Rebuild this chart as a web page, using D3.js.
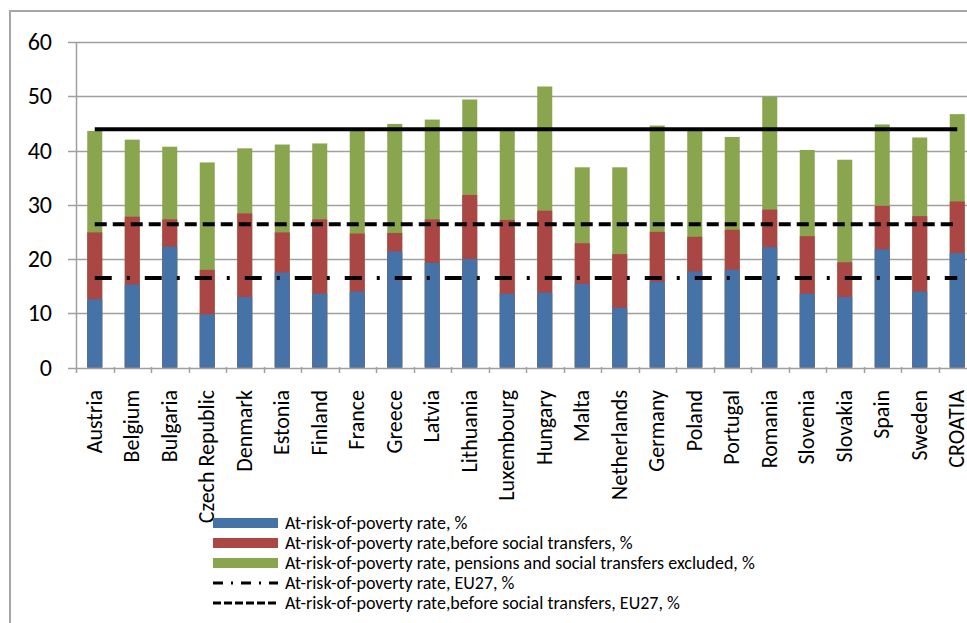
<!DOCTYPE html>
<html>
<head>
<meta charset="utf-8">
<script src="https://cdn.jsdelivr.net/npm/d3@7"></script>
<style>
  body { margin: 0; background: #fff; }
  svg { display: block; font-family: Carlito, Calibri, Lato, sans-serif; }
</style>
</head>
<body>
<svg id="chart" width="967" height="623"></svg>
<script>
const categories = ['Austria', 'Belgium', 'Bulgaria', 'Czech Republic', 'Denmark', 'Estonia',
  'Finland', 'France', 'Greece', 'Latvia', 'Lithuania', 'Luxembourg', 'Hungary', 'Malta',
  'Netherlands', 'Germany', 'Poland', 'Portugal', 'Romania', 'Slovenia', 'Slovakia', 'Spain',
  'Sweden', 'CROATIA'];

// at-risk-of-poverty rate, %
const povertyRate = [12.6, 15.3, 22.3, 9.8, 13.0, 17.5, 13.6, 14.0, 21.4, 19.3, 20.0, 13.6,
  13.8, 15.4, 11.0, 15.8, 17.7, 18.0, 22.2, 13.6, 13.0, 21.8, 14.0, 21.1];
// at-risk-of-poverty rate before social transfers, %
const beforeTransfers = [24.9, 27.8, 27.3, 18.0, 28.4, 24.9, 27.3, 24.7, 24.8, 27.3, 31.8, 27.2,
  28.9, 22.9, 20.9, 25.0, 24.1, 25.4, 29.1, 24.2, 19.4, 29.8, 27.9, 30.6];
// at-risk-of-poverty rate, pensions and social transfers excluded, %
const pensionsExcluded = [43.6, 42.0, 40.7, 37.8, 40.4, 41.1, 41.3, 43.8, 44.9, 45.7, 49.4, 43.7,
  51.8, 36.9, 36.9, 44.6, 43.7, 42.5, 49.9, 40.1, 38.3, 44.8, 42.4, 46.7];

// EU27 reference levels
const eu27Poverty = 16.5;
const eu27Before = 26.4;
const eu27PensionsExcluded = 43.9;

const yTicks = [0, 10, 20, 30, 40, 50, 60];

const legendItems = [
  { label: 'At-risk-of-poverty rate, %', type: 'rect', color: '#4572a7' },
  { label: 'At-risk-of-poverty rate,before social transfers, %', type: 'rect', color: '#aa4643' },
  { label: 'At-risk-of-poverty rate, pensions and social transfers excluded, %', type: 'rect', color: '#89a54e' },
  { label: 'At-risk-of-poverty rate, EU27, %', type: 'line', dash: '10,8,2,8' },
  { label: 'At-risk-of-poverty rate,before social transfers, EU27, %', type: 'line', dash: '8,3' }
];

const svg = d3.select('#chart');
const margin = { top: 42, left: 76, bottom: 256 };
const plotRight = 976;
const plotBottom = 623 - margin.bottom;

const x = d3.scaleBand().domain(categories).range([margin.left, plotRight]).padding(0);
const y = d3.scaleLinear().domain([0, 60]).range([plotBottom + 0.5, margin.top]);
const barW = x.bandwidth() * 0.4;
const cx = (c) => x(c) + x.bandwidth() / 2;

// outer frame
svg.append('path')
  .attr('d', 'M10,623 V11 H967')
  .attr('fill', 'none')
  .attr('stroke', '#a6a6a6')
  .attr('stroke-width', 2);

// gridlines
svg.append('g')
  .selectAll('line')
  .data(yTicks)
  .join('line')
  .attr('x1', margin.left - 8)
  .attr('x2', plotRight)
  .attr('y1', (d) => Math.round(y(d)) + 0.5)
  .attr('y2', (d) => Math.round(y(d)) + 0.5)
  .attr('stroke', '#a0a0a0')
  .attr('stroke-width', 1.5);

// y axis labels
const yAxis = svg.append('g')
  .attr('transform', `translate(${margin.left},0)`)
  .call(d3.axisLeft(y).tickValues(yTicks).tickSize(0).tickPadding(24));
yAxis.select('.domain').remove();
yAxis.selectAll('text')
  .attr('font-size', 24)
  .attr('font-family', 'Carlito, Calibri, Lato, sans-serif')
  .attr('fill', '#000');

svg.append('line')
  .attr('x1', margin.left + 0.5).attr('x2', margin.left + 0.5)
  .attr('y1', margin.top).attr('y2', plotBottom + 6)
  .attr('stroke', '#a0a0a0').attr('stroke-width', 1.5);

// bars: overlapping, tallest first
const series = [
  { values: pensionsExcluded, color: '#89a54e' },
  { values: beforeTransfers, color: '#aa4643' },
  { values: povertyRate, color: '#4572a7' }
];
series.forEach((s) => {
  svg.append('g')
    .selectAll('rect')
    .data(categories)
    .join('rect')
    .attr('x', (c) => cx(c) - barW / 2)
    .attr('width', barW)
    .attr('y', (c, i) => y(s.values[i]))
    .attr('height', (c, i) => y(0) - y(s.values[i]))
    .attr('fill', s.color);
});

// x axis with ticks between categories
const xAxis = svg.append('g')
  .attr('transform', `translate(0,${plotBottom})`)
  .call(d3.axisBottom(x).tickSize(0).tickPadding(0));
xAxis.select('.domain').remove();
xAxis.selectAll('text')
  .attr('transform', 'rotate(-90)')
  .attr('x', -23)
  .attr('y', 0)
  .attr('dy', '0.32em')
  .attr('font-size', 22)
  .attr('font-family', 'Carlito, Calibri, Lato, sans-serif')
  .attr('fill', '#000')
  .style('text-anchor', 'end');

svg.append('g')
  .selectAll('line')
  .data(categories.slice(1))
  .join('line')
  .attr('x1', (c) => Math.round(x(c)) + 0.5)
  .attr('x2', (c) => Math.round(x(c)) + 0.5)
  .attr('y1', plotBottom)
  .attr('y2', plotBottom + 6)
  .attr('stroke', '#a0a0a0')
  .attr('stroke-width', 1.5);

// EU27 reference lines
const first = cx(categories[0]);
const last = cx(categories[categories.length - 1]);
const refLines = [
  { value: eu27PensionsExcluded, dash: null },
  { value: eu27Before, dash: '12,6' },
  { value: eu27Poverty, dash: '17,15,3,15' }
];
refLines.forEach((r) => {
  svg.append('line')
    .attr('x1', first).attr('x2', last)
    .attr('y1', y(r.value)).attr('y2', y(r.value))
    .attr('stroke', '#000')
    .attr('stroke-width', 4)
    .attr('stroke-dasharray', r.dash);
});

// legend
const legend = svg.append('g').attr('transform', 'translate(213,523)');
const rows = legend.selectAll('g')
  .data(legendItems)
  .join('g')
  .attr('transform', (d, i) => `translate(0,${i * 20})`);

rows.filter((d) => d.type === 'rect')
  .append('rect')
  .attr('x', 0).attr('y', -5)
  .attr('width', 65).attr('height', 10)
  .attr('fill', (d) => d.color);

rows.filter((d) => d.type === 'line')
  .append('line')
  .attr('x1', 0).attr('x2', 65)
  .attr('y1', 0).attr('y2', 0)
  .attr('stroke', '#000')
  .attr('stroke-width', 3)
  .attr('stroke-dasharray', (d) => d.dash);

rows.append('text')
  .attr('x', 72)
  .attr('y', 0)
  .attr('dy', '0.35em')
  .attr('font-size', 18)
  .attr('fill', '#000')
  .text((d) => d.label);
</script>
</body>
</html>
